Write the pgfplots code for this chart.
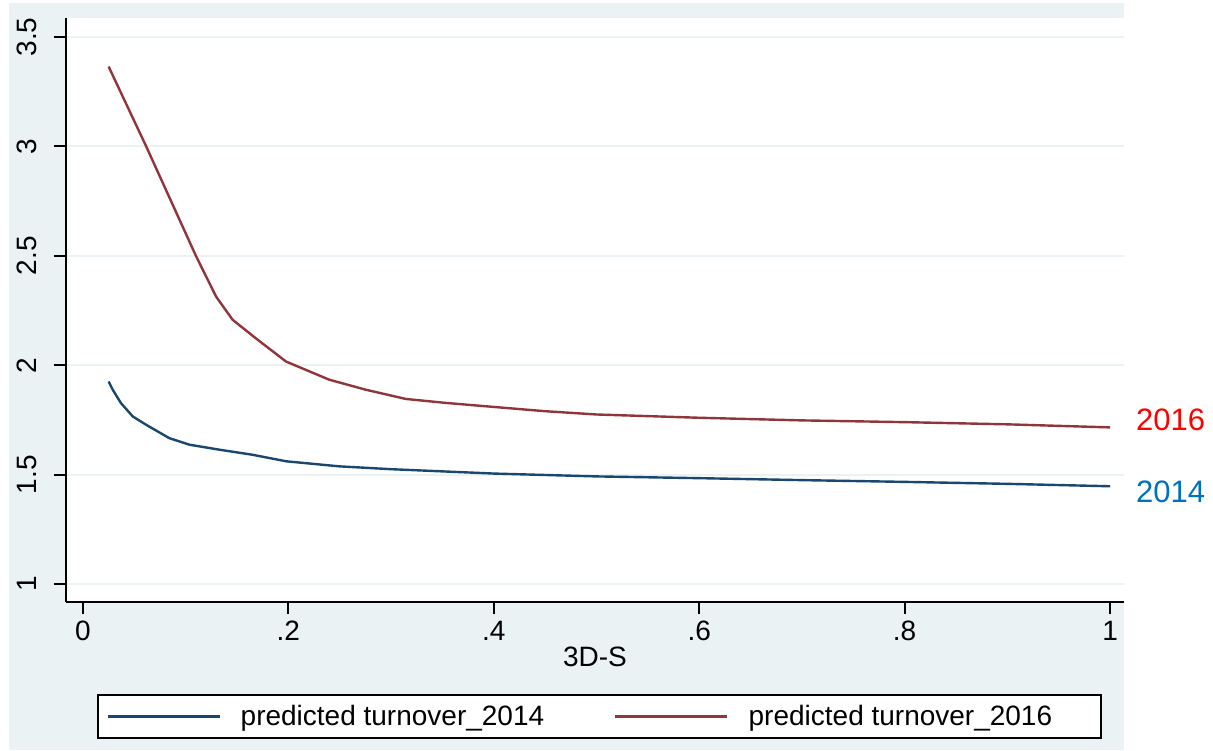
\documentclass[border=0pt]{standalone}
\usepackage{fontspec}
\setmainfont{Liberation Sans}
\usepackage{pgfplots}
\pgfplotsset{compat=1.18}
\definecolor{bgc}{HTML}{EAF2F3}
\definecolor{gridc}{HTML}{EAF2F3}
\definecolor{s14}{HTML}{1A476F}
\definecolor{s16}{HTML}{90353B}
\definecolor{lab14}{HTML}{0070C0}
\definecolor{lab16}{HTML}{FF0000}
\begin{document}
\begin{tikzpicture}
\useasboundingbox (0,0) rectangle (606.5pt,375pt);
\fill[white] (0,0) rectangle (606.5pt,375pt);
\fill[bgc] (4.5pt,0pt) rectangle (562pt,373.5pt);
\begin{axis}[
  at={(33pt,74pt)}, anchor=south west,
  scale only axis, width=529pt, height=292pt,
  xmin=-0.0165, xmax=1.0136, ymin=0.918, ymax=3.587,
  axis x line*=bottom, axis y line*=left,
  axis line style={line width=1pt, black},
  axis background/.style={fill=white},
  xtick={0,0.2,0.4,0.6,0.8,1}, xticklabels={0,.2,.4,.6,.8,1},
  ytick={1,1.5,2,2.5,3,3.5}, yticklabels={1,1.5,2,2.5,3,3.5},
  tick align=outside, major tick length=6pt,
  tick style={line width=1pt, black},
  ymajorgrids, major grid style={line width=1pt, color=gridc},
  /pgf/number format/assume math mode=true,
  every tick label/.append style={font=\fontsize{14}{16}\selectfont},
  yticklabel style={rotate=90, anchor=south},
  yticklabel shift=5pt,
  xlabel={3D-S}, xlabel style={font=\fontsize{14}{16}\selectfont, yshift=4pt},
  clip=false,
  legend columns=2,
  legend cell align=left,
  legend image code/.code={\draw[#1, line width=1.2pt] (0pt,0pt) -- (56pt,0pt);},
  legend style={at={(0.0296,-0.2346)}, anchor=south west, draw=black, line width=1pt,
    fill=white, font=\fontsize{14}{16}\selectfont,
    inner xsep=4pt, inner ysep=3pt,
    /tikz/every odd column/.append style={column sep=8pt},
    /tikz/every even column/.append style={column sep=33pt}},
]
\addplot[s14, line width=1.2pt] coordinates {
(0.025,1.926) (0.029,1.888) (0.037,1.827) (0.0485,1.766) (0.0615,1.728)
(0.084,1.667) (0.1036,1.637) (0.133,1.614) (0.165,1.591) (0.198,1.561)
(0.2495,1.538) (0.3,1.525) (0.4,1.505) (0.5,1.492) (0.6,1.484)
(0.7,1.475) (0.8,1.467) (0.9,1.458) (1.0,1.447)
};
\addlegendentry{predicted turnover\_2014}
\addplot[s16, line width=1.2pt] coordinates {
(0.025,3.365) (0.0616,3.0) (0.110,2.50) (0.1296,2.314) (0.1457,2.208)
(0.170,2.117) (0.1977,2.017) (0.2398,1.934) (0.2755,1.888) (0.3144,1.846)
(0.353,1.828) (0.386,1.815) (0.45,1.79) (0.5,1.775) (0.6,1.76)
(0.7,1.748) (0.8,1.74) (0.9,1.73) (1.0,1.716)
};
\addlegendentry{\makebox[170pt][l]{predicted turnover\_2016}}
\node[font=\fontsize{15.5}{17}\selectfont, text=lab16] at (axis cs:1.0589,1.751) {2016};
\node[font=\fontsize{15.5}{17}\selectfont, text=lab14] at (axis cs:1.0589,1.4224) {2014};
\end{axis}
\end{tikzpicture}
\end{document}
